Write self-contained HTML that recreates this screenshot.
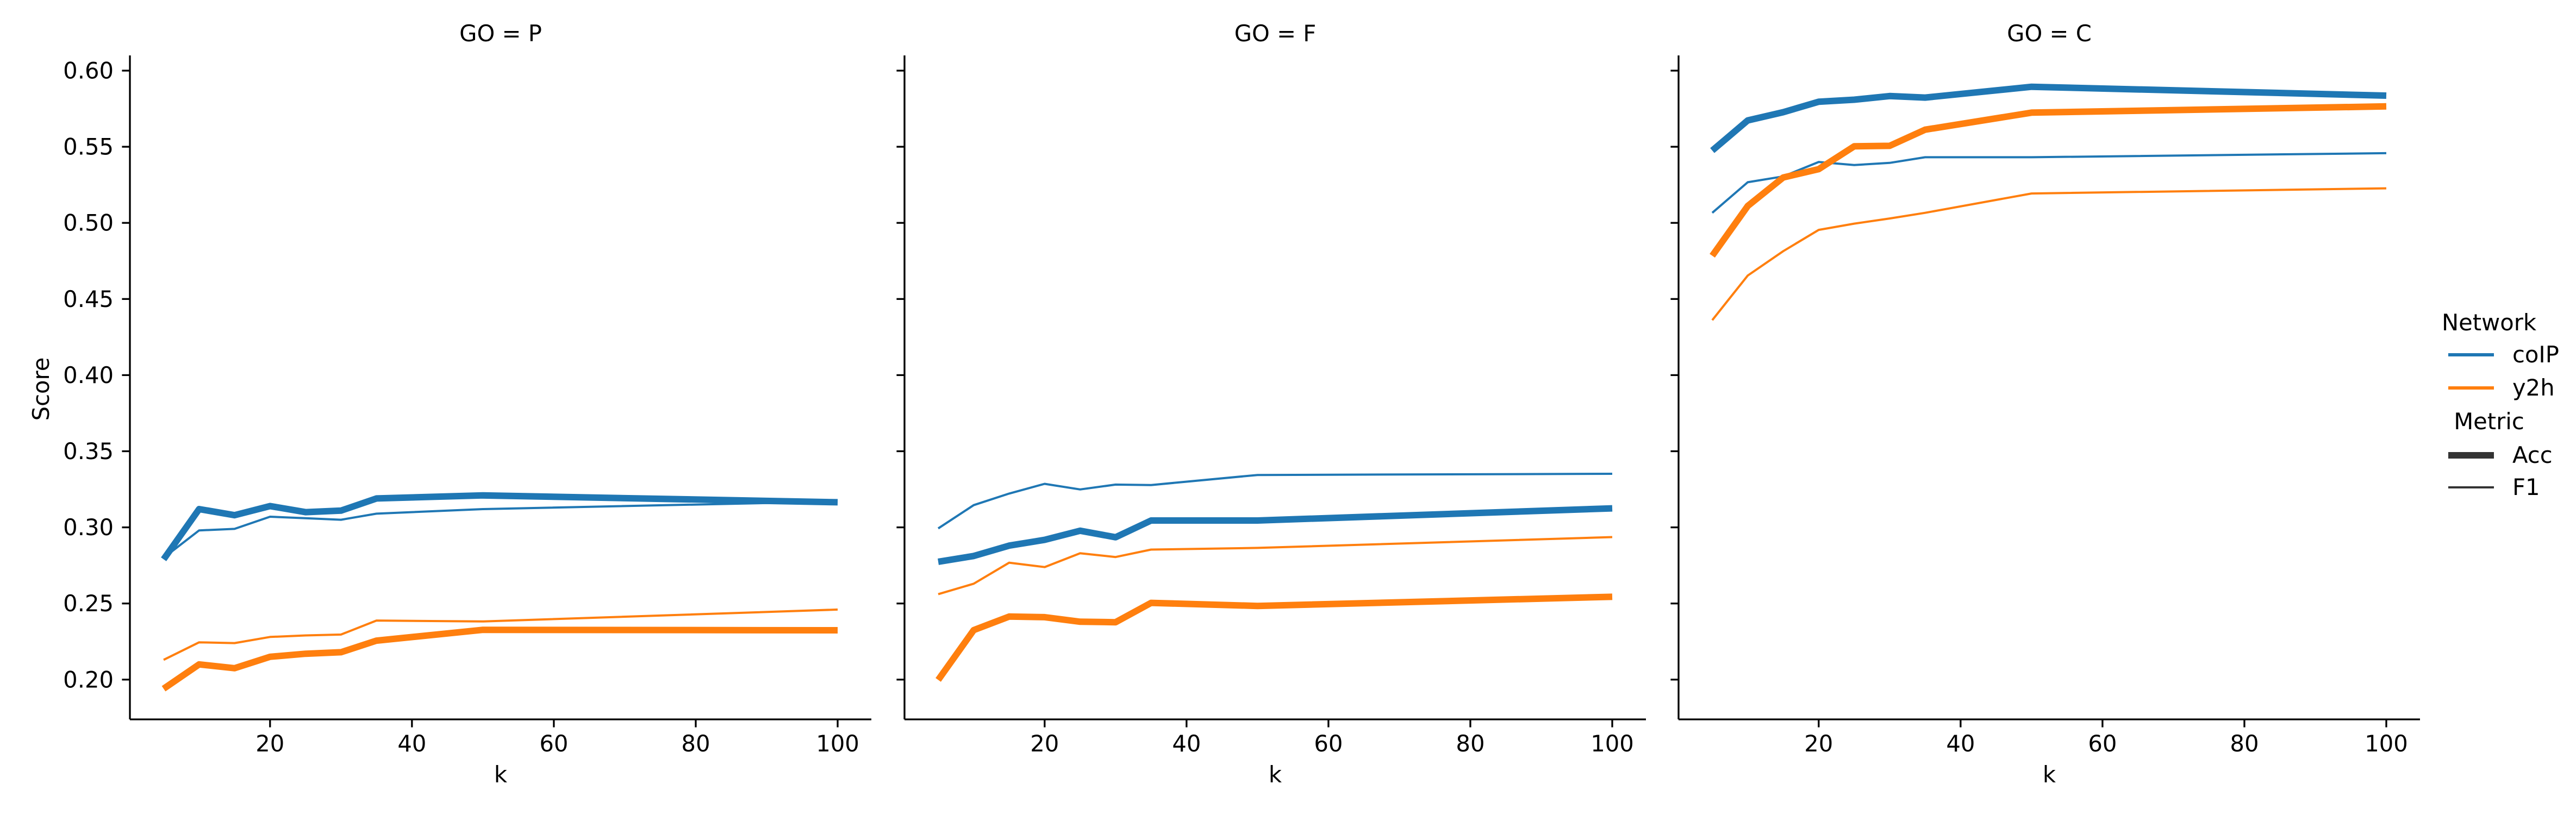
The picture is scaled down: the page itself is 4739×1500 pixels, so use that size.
<!DOCTYPE html>
<html><head><meta charset="utf-8"><style>
html,body{margin:0;padding:0;background:#fff;}
svg{display:block;font-family:"DejaVu Sans","Liberation Sans",sans-serif;}
</style></head><body>
<svg id="chart" width="4739" height="1500" viewBox="0 0 4739 1500" xmlns="http://www.w3.org/2000/svg"></svg>
<script>
const kValues = [5,10,15,20,25,30,35,50,100];
const panels = ["P","F","C"];
const yTicks = [0.20,0.25,0.30,0.35,0.40,0.45,0.50,0.55,0.60];
const xTicks = [20,40,60,80,100];
const pCoipAcc = [0.279,0.312,0.308,0.314,0.310,0.311,0.319,0.321,0.3165];
const pCoipF1  = [0.280,0.298,0.299,0.307,0.306,0.305,0.309,0.312,0.317];
const pY2hAcc  = [0.194,0.210,0.2075,0.215,0.217,0.218,0.2256,0.2327,0.2324];
const pY2hF1   = [0.213,0.2245,0.224,0.228,0.229,0.2296,0.2388,0.2382,0.246];
const fCoipAcc = [0.2774,0.2812,0.288,0.2918,0.2978,0.2935,0.3045,0.3045,0.3125];
const fCoipF1  = [0.2993,0.3146,0.3222,0.3286,0.3249,0.3281,0.3278,0.3344,0.3352];
const fY2hAcc  = [0.1998,0.2325,0.2414,0.241,0.238,0.2377,0.2504,0.2484,0.2544];
const fY2hF1   = [0.2561,0.263,0.2768,0.2739,0.283,0.2805,0.2854,0.2865,0.2936];
const cCoipAcc = [0.5475,0.5673,0.5727,0.5796,0.5809,0.5833,0.5823,0.5894,0.5836];
const cCoipF1  = [0.5066,0.5267,0.5305,0.540,0.538,0.5394,0.5431,0.5431,0.5458];
const cY2hAcc  = [0.4784,0.5111,0.5298,0.5353,0.5503,0.5506,0.5612,0.5724,0.5765];
const cY2hF1   = [0.4361,0.4654,0.4814,0.4954,0.4995,0.5029,0.5066,0.5193,0.5227];
const panelSeries = [
  [["coip","acc",pCoipAcc],["coip","f1",pCoipF1],["y2h","acc",pY2hAcc],["y2h","f1",pY2hF1]],
  [["coip","acc",fCoipAcc],["coip","f1",fCoipF1],["y2h","acc",fY2hAcc],["y2h","f1",fY2hF1]],
  [["coip","acc",cCoipAcc],["coip","f1",cCoipF1],["y2h","acc",cY2hAcc],["y2h","f1",cY2hF1]]
];

const svg = document.getElementById('chart');
const NS = 'http://www.w3.org/2000/svg';
const colors = {coip:'#1f77b4', y2h:'#ff7f0e'};
const widths = {acc:12, f1:4};
const panelLefts = [239,1664,3088];
const panelW = 1364, yTop = 102, yBot = 1324;
const xMin = 0.25, xMax = 104.75;
function yScale(v){ return 130 + (0.60 - v) * 2802; }
function mk(tag, attrs, parent){
  const e = document.createElementNS(NS, tag);
  for (const k in attrs) e.setAttribute(k, attrs[k]);
  (parent||svg).appendChild(e);
  return e;
}

panels.forEach((p, pi) => {
  const L = panelLefts[pi];
  const xScale = k => L + (k - xMin) / (xMax - xMin) * panelW;
  const g = mk('g', {});
  
  
  const t = mk('text', {x: L + panelW/2, y: 76, 'font-size': 41.7, 'text-anchor': 'middle'}, g);
  t.textContent = 'GO = ' + p;
  
  
  // series
  panelSeries[pi].forEach(s => {
    const pts = kValues.map((k, i) => xScale(k).toFixed(1) + ',' + yScale(s[2][i]).toFixed(1)).join(' ');
    const pl = mk('polyline', {points: pts, fill: 'none', stroke: colors[s[0]], 'stroke-width': widths[s[1]], 'stroke-linejoin': 'round'}, g);
    
    
  });
  // axes
  const ya = mk('line', {x1: L, y1: yTop, x2: L, y2: yBot, stroke: '#000', 'stroke-width': 3.3}, g);
  
  
  const xa = mk('line', {x1: L, y1: yBot, x2: L + panelW, y2: yBot, stroke: '#000', 'stroke-width': 3.3}, g);
  
  
  yTicks.forEach(v => {
    const y = yScale(v);
    mk('line', {x1: L - 14.6, y1: y, x2: L, y2: y, stroke: '#000', 'stroke-width': 3.3}, g);
    if (pi === 0) {
      const tl = mk('text', {x: L - 30, y: y + 14.5, 'font-size': 41.7, 'text-anchor': 'end'}, g);
      tl.textContent = v.toFixed(2);
      
      
    }
  });
  xTicks.forEach(k => {
    const x = xScale(k);
    mk('line', {x1: x, y1: yBot, x2: x, y2: yBot + 14.6, stroke: '#000', 'stroke-width': 3.3}, g);
    const tl = mk('text', {x: x, y: 1383, 'font-size': 41.7, 'text-anchor': 'middle'}, g);
    tl.textContent = String(k);
    
    
  });
  const xl = mk('text', {x: L + panelW/2, y: 1440, 'font-size': 41.7, 'text-anchor': 'middle'}, g);
  xl.textContent = 'k';
  
  
});
const yl = mk('text', {x: 0, y: 0, 'font-size': 41.7, 'text-anchor': 'middle', transform: 'translate(90,716) rotate(-90)'});
yl.textContent = 'Score';



// legend
const lg = mk('g', {});


const legendItems = [
  ['title','Network',null,null,594],
  ['entry','coIP','#1f77b4',6,653],
  ['entry','y2h','#ff7f0e',6,714],
  ['title','Metric',null,null,776],
  ['entry','Acc','#333333',12,838],
  ['entry','F1','#333333',4,897]
];
legendItems.forEach(it => {
  if (it[0] === 'title') {
    const tt = mk('text', {x: 4579, y: it[4] + 14, 'font-size': 41.7, 'text-anchor': 'middle'}, lg);
    tt.textContent = it[1];
    
    
  } else {
    mk('line', {x1: 4504, y1: it[4], x2: 4588, y2: it[4], stroke: it[2], 'stroke-width': it[3]}, lg);
    const tt = mk('text', {x: 4622, y: it[4] + 14, 'font-size': 41.7}, lg);
    tt.textContent = it[1];
    
    
  }
});
</script>
</body></html>
